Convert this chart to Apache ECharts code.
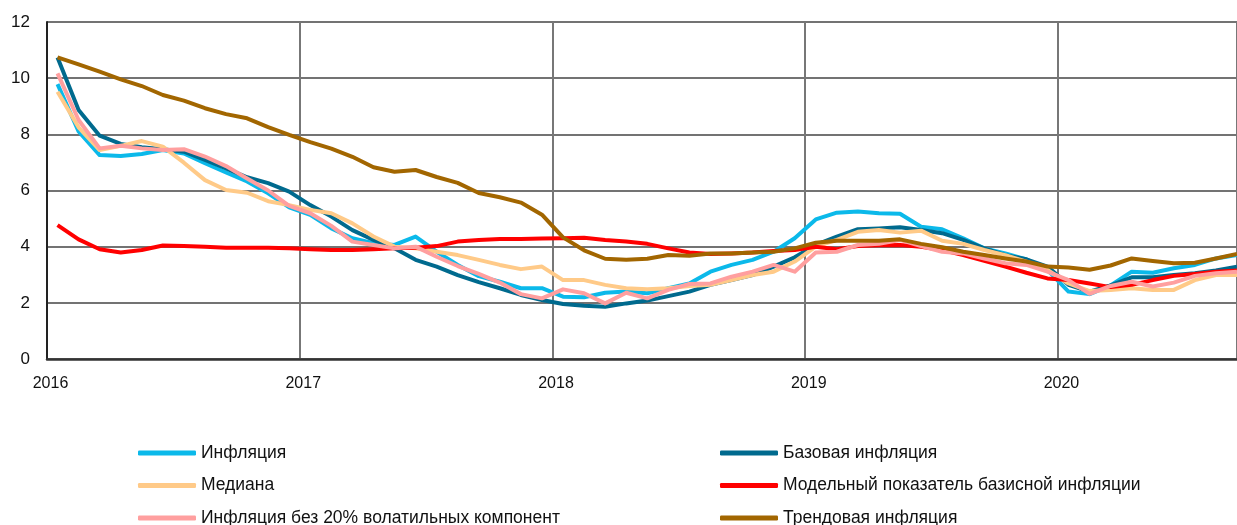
<!DOCTYPE html>
<html>
<head>
<meta charset="utf-8">
<script src="https://cdn.jsdelivr.net/npm/echarts@6/dist/echarts.min.js"></script>
<style>
  html, body { margin: 0; padding: 0; background: #fff; }
  #chart { width: 1237px; height: 525px; }
</style>
</head>
<body>
<div id="chart"></div>
<script>
// monthly, Jan 2016 .. Sep 2020 (57 points), % y/y
const startYear = 2016

const inflation = [
  9.79, 8.10, 7.26, 7.23, 7.30, 7.44, 7.32, 6.97, 6.64, 6.32, 5.90, 5.40,
  5.13, 4.65, 4.30, 4.12, 4.06, 4.36, 3.82, 3.35, 2.95, 2.75, 2.52, 2.52,
  2.22, 2.20, 2.36, 2.40, 2.34, 2.52, 2.69, 3.11, 3.35, 3.53, 3.82, 4.30,
  4.97, 5.21, 5.25, 5.19, 5.17, 4.71, 4.62, 4.30, 3.94, 3.76, 3.55, 3.17,
  2.40, 2.31, 2.62, 3.11, 3.07, 3.23, 3.35, 3.58, 3.70
]
const coreInflation = [
  10.74, 8.87, 7.95, 7.66, 7.54, 7.47, 7.38, 7.09, 6.79, 6.47, 6.26, 5.96,
  5.48, 5.07, 4.59, 4.24, 3.94, 3.53, 3.29, 2.99, 2.74, 2.52, 2.28, 2.10,
  1.96, 1.90, 1.86, 1.98, 2.08, 2.24, 2.40, 2.64, 2.81, 2.99, 3.29, 3.62,
  4.06, 4.36, 4.62, 4.65, 4.69, 4.59, 4.48, 4.24, 3.94, 3.70, 3.55, 3.29,
  2.64, 2.40, 2.62, 2.91, 2.91, 2.99, 3.05, 3.15, 3.29
]
const median = [
  9.52, 8.25, 7.44, 7.59, 7.76, 7.56, 6.99, 6.37, 6.02, 5.92, 5.62, 5.48,
  5.31, 5.19, 4.83, 4.36, 4.00, 3.94, 3.82, 3.70, 3.53, 3.35, 3.20, 3.29,
  2.81, 2.81, 2.64, 2.52, 2.48, 2.52, 2.60, 2.64, 2.81, 2.99, 3.11, 3.47,
  4.00, 4.24, 4.53, 4.59, 4.50, 4.57, 4.21, 4.10, 3.88, 3.70, 3.47, 3.17,
  2.69, 2.42, 2.46, 2.52, 2.46, 2.46, 2.81, 2.99, 2.99
]
const modelCore = [
  4.77, 4.26, 3.91, 3.79, 3.88, 4.04, 4.02, 4.00, 3.96, 3.96, 3.96, 3.94,
  3.91, 3.88, 3.88, 3.91, 3.94, 3.96, 4.02, 4.18, 4.24, 4.27, 4.27, 4.29,
  4.30, 4.32, 4.24, 4.18, 4.10, 3.94, 3.79, 3.74, 3.76, 3.79, 3.85, 3.88,
  4.00, 3.91, 4.02, 4.05, 4.06, 4.00, 3.88, 3.70, 3.50, 3.29, 3.07, 2.87,
  2.81, 2.69, 2.56, 2.64, 2.81, 2.96, 3.03, 3.11, 3.15
]
const trimmed20 = [
  10.17, 8.51, 7.50, 7.59, 7.50, 7.44, 7.47, 7.21, 6.87, 6.43, 6.00, 5.45,
  5.19, 4.74, 4.18, 4.06, 3.94, 4.00, 3.64, 3.31, 3.03, 2.72, 2.31, 2.16,
  2.48, 2.34, 1.98, 2.36, 2.16, 2.46, 2.67, 2.69, 2.93, 3.11, 3.35, 3.11,
  3.79, 3.82, 4.06, 4.10, 4.24, 4.02, 3.82, 3.76, 3.58, 3.41, 3.35, 3.11,
  2.81, 2.32, 2.60, 2.75, 2.58, 2.72, 2.96, 3.05, 3.11
]
const trend = [
  10.74, 10.49, 10.23, 9.96, 9.72, 9.40, 9.20, 8.93, 8.72, 8.57, 8.26, 7.98,
  7.72, 7.49, 7.20, 6.83, 6.67, 6.73, 6.48, 6.27, 5.91, 5.76, 5.57, 5.14,
  4.33, 3.87, 3.57, 3.53, 3.57, 3.70, 3.68, 3.76, 3.76, 3.79, 3.82, 3.94,
  4.14, 4.21, 4.21, 4.21, 4.26, 4.10, 3.98, 3.82, 3.70, 3.58, 3.47, 3.29,
  3.26, 3.18, 3.33, 3.58, 3.49, 3.41, 3.43, 3.58, 3.74
]

const seriesNames = [
  'Инфляция',
  'Базовая инфляция',
  'Медиана',
  'Модельный показатель базисной инфляции',
  'Инфляция без 20% волатильных компонент',
  'Трендовая инфляция'
]
const seriesValues = [inflation, coreInflation, median, modelCore, trimmed20, trend]
const seriesColors = ['#0bb9ea', '#006a8e', '#ffca88', '#ff0000', '#ff9f9f', '#a26600']

const font = 'Liberation Sans'

// point sits in the middle of its month, x counted in months from Jan 2016
const toPoints = vals => vals.map((v, i) => [i + 0.5, v])

const chart = echarts.init(document.getElementById('chart'), null, { renderer: 'canvas' })

const legendStyle = {
  orient: 'vertical',
  top: 439,
  height: 120,
  icon: 'roundRect',
  itemWidth: 58,
  itemHeight: 5,
  itemGap: 14.5,
  itemTextGap: 4,
  itemStyle: { borderWidth: 0 },
  textStyle: { fontFamily: font, fontSize: 17.5, color: '#111', lineHeight: 18 }
}

const option = {
  animation: false,
  backgroundColor: '#fff',
  grid: { left: 47, right: 0, top: 22, bottom: 166 },
  legend: [
    Object.assign({ left: 133, data: [seriesNames[0], seriesNames[2], seriesNames[4]] }, legendStyle),
    Object.assign({ left: 715, data: [seriesNames[1], seriesNames[3], seriesNames[5]] }, legendStyle)
  ],
  xAxis: {
    type: 'value',
    min: 0,
    max: 56.5,
    interval: 12,
    axisLine: { show: true, onZero: false, lineStyle: { color: '#333', width: 2.5 } },
    axisTick: { show: false },
    splitLine: { show: true, lineStyle: { color: '#777', width: 2 } },
    axisLabel: {
      fontFamily: font, fontSize: 16, color: '#111', margin: 17,
      padding: [0, 0, 0, 7],
      showMaxLabel: false,
      formatter: v => String(startYear + v / 12)
    }
  },
  yAxis: {
    type: 'value',
    min: 0,
    max: 12,
    interval: 2,
    axisLine: { show: true, lineStyle: { color: '#222', width: 2 } },
    axisTick: { show: false },
    splitLine: { show: true, lineStyle: { color: '#444', width: 1.5 } },
    axisLabel: { fontFamily: font, fontSize: 17, color: '#111', margin: 17 }
  },
  series: seriesNames.map((name, k) => ({
    name: name,
    type: 'line',
    data: toPoints(seriesValues[k]),
    showSymbol: false,
    symbol: 'none',
    color: seriesColors[k],
    lineStyle: { width: 4, color: seriesColors[k], join: 'round' }
  }))
}

chart.setOption(option)
</script>
</body>
</html>
